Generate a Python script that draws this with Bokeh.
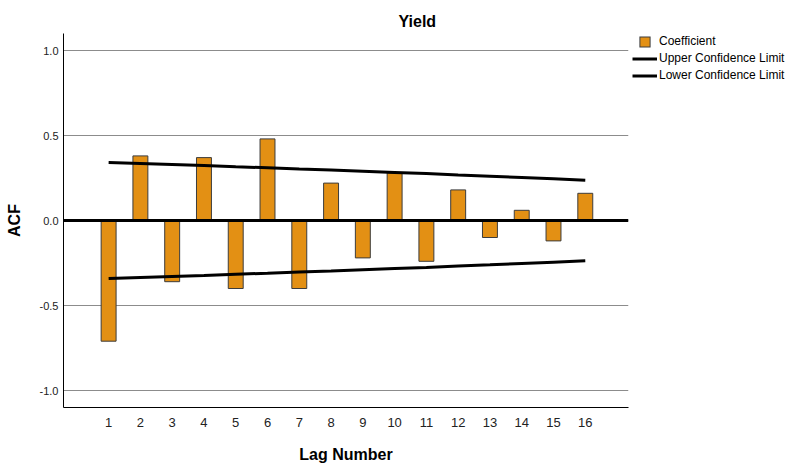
from bokeh.plotting import figure
from bokeh.models import Range1d, FixedTicker, Span, Legend, LegendItem
from bokeh.embed import file_html
from bokeh.resources import INLINE

# ---- data ----
chart_title = "Yield"
lags = [1, 2, 3, 4, 5, 6, 7, 8, 9, 10, 11, 12, 13, 14, 15, 16]
acf = [-0.71, 0.38, -0.36, 0.37, -0.40, 0.48, -0.40, 0.22,
       -0.22, 0.28, -0.24, 0.18, -0.10, 0.06, -0.12, 0.16]
upper_limit = [0.341, 0.335, 0.329, 0.323, 0.316, 0.310, 0.303, 0.297,
               0.290, 0.283, 0.276, 0.268, 0.261, 0.253, 0.245, 0.237]
lower_limit = [-0.341, -0.335, -0.329, -0.323, -0.316, -0.310, -0.303, -0.297,
               -0.290, -0.283, -0.276, -0.268, -0.261, -0.253, -0.245, -0.237]
x_tick_labels = ["1", "2", "3", "4", "5", "6", "7", "8", "9", "10",
                 "11", "12", "13", "14", "15", "16"]
y_ticks = [-1.0, -0.5, 0.0, 0.5, 1.0]
y_tick_labels = ["-1.0", "-0.5", "0.0", "0.5", "1.0"]
legend_labels = ["Coefficient", "Upper Confidence Limit", "Lower Confidence Limit"]

FONT = "Liberation Sans"
BAR_FILL = "#E39014"
BAR_LINE = "#3c3c3c"

p = figure(frame_width=565, frame_height=374,
           min_border_left=63, min_border_right=161,
           min_border_top=33, min_border_bottom=50,
           x_range=Range1d(-0.42, 17.36), y_range=Range1d(-1.1, 1.1),
           output_backend="svg", toolbar_location=None, tools="")
p.outline_line_color = None
p.background_fill_color = "white"
p.border_fill_color = "white"

# title
p.title.text = chart_title
p.title.align = "left"
p.title.offset = 335
p.title.standoff = 7
p.title.text_font = FONT
p.title.text_font_size = "16px"
p.title.text_font_style = "bold"
p.title.text_color = "black"

# grid
p.xgrid.visible = False
p.ygrid.ticker = FixedTicker(ticks=y_ticks)
p.ygrid.grid_line_color = "#8c8c8c"
p.ygrid.grid_line_width = 1

# axes
p.xaxis.ticker = FixedTicker(ticks=lags)
p.xaxis.major_label_overrides = {k: s for k, s in zip(lags, x_tick_labels)}
p.yaxis.ticker = FixedTicker(ticks=y_ticks)
p.yaxis.major_label_overrides = {k: s for k, s in zip(y_ticks, y_tick_labels)}
for ax in (p.xaxis[0], p.yaxis[0]):
    ax.axis_line_color = "black"
    ax.axis_line_width = 1
    ax.major_tick_in = 0
    ax.major_tick_out = 0
    ax.minor_tick_in = 0
    ax.minor_tick_out = 0
    ax.major_label_text_font = FONT
    ax.major_label_text_color = "#222222"
    ax.axis_label_text_font = FONT
    ax.axis_label_text_font_style = "bold"
    ax.axis_label_text_font_size = "16px"
    ax.axis_label_text_color = "black"
p.xaxis.major_label_text_font_size = "13px"
p.yaxis.major_label_text_font_size = "11px"
p.xaxis.major_label_standoff = 10
p.yaxis.major_label_standoff = 5
p.xaxis.axis_label = "Lag Number"
p.yaxis.axis_label = "ACF"
p.xaxis.axis_label_standoff = 16
p.yaxis.axis_label_standoff = 14

# bars
bars = p.vbar(x=lags, top=acf, bottom=0, width=0.47,
              fill_color=BAR_FILL, line_color=BAR_LINE, line_width=1)

# zero line
p.add_layout(Span(location=0, dimension="width", line_color="black", line_width=3))

# confidence limits
up = p.line(lags, upper_limit, line_color="black", line_width=3)
lo = p.line(lags, lower_limit, line_color="black", line_width=3)

# legend swatch for the bars: hidden renderers, used only to draw
# the small square in the legend
sw_outer = p.scatter(lags, acf, marker="square", size=1, fill_color=BAR_LINE,
                     line_color=BAR_LINE, line_width=4.4, line_join="miter",
                     visible=False)
sw_inner = p.scatter(lags, acf, marker="square", size=1, fill_color=BAR_FILL,
                     line_color=BAR_FILL, line_width=2.4, line_join="miter",
                     visible=False)

legend = Legend(items=[LegendItem(label=legend_labels[0], renderers=[sw_outer, sw_inner]),
                       LegendItem(label=legend_labels[1], renderers=[up]),
                       LegendItem(label=legend_labels[2], renderers=[lo])],
                location=(4, 323.5), glyph_width=25, glyph_height=17,
                label_height=17, label_standoff=2, padding=0, margin=0, spacing=0,
                border_line_color=None, background_fill_alpha=0,
                inactive_fill_alpha=0,
                label_text_font=FONT, label_text_font_size="12px",
                label_text_color="black")
p.add_layout(legend, "right")

open("out.html", "w").write(file_html(p, INLINE))
